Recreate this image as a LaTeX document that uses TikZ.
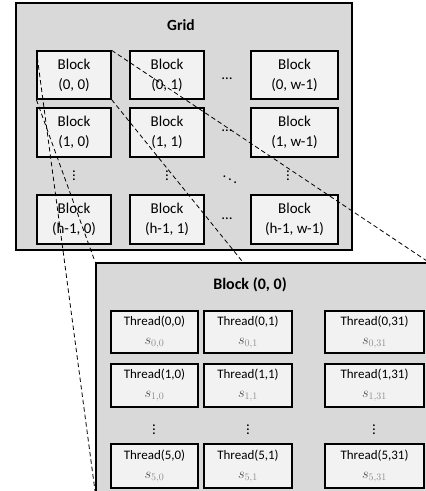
\documentclass[tikz,border=0pt]{standalone}
\usepackage{fontspec}
\setmainfont{Carlito}
\definecolor{gridgray}{HTML}{D9D9D9}
\definecolor{blkfill}{HTML}{F2F2F2}
\definecolor{sdark}{HTML}{505050}
\definecolor{slight}{HTML}{8C8C8C}
\newcommand{\svar}[1]{{\fontsize{14.5}{19}\selectfont\color{sdark}$s_{\color{slight}#1}$}}
\begin{document}
\begin{tikzpicture}[x=1pt,y=-1pt,
  outerbox/.style={draw, line width=1.6pt, fill=gridgray, inner sep=0pt},
  blk/.style={draw, line width=1.3pt, fill=blkfill, minimum height=48pt, inner sep=0pt,
    align=center, font=\fontsize{15}{20}\selectfont},
  thr/.style={draw, line width=1.3pt, fill=blkfill, inner sep=0pt,
    align=center, font=\fontsize{13}{19}\selectfont},
  ttl/.style={font=\fontsize{15.5}{18}\selectfont\bfseries},
  dotlbl/.style={font=\fontsize{15}{16}\selectfont, inner sep=0pt},
  link/.style={line width=0.8pt, dash pattern=on 4.5pt off 3pt}]
\useasboundingbox (0,0) rectangle (426,491);
\clip (0,0) rectangle (426,491);
% grid
\node[outerbox, minimum width=336pt, minimum height=247pt] (grid) at (184,126.5) {};
\node[ttl] (gridlbl) at (181,25) {Grid};
\node[blk, minimum width=74pt] (b00) at (74,75) {Block\\(0, 0)};
\node[blk, minimum width=74pt] (b01) at (167,75) {Block\\(0, 1)};
\node[blk, minimum width=87pt] (b0w) at (294.5,75) {Block\\(0, w-1)};
\node[blk, minimum width=74pt, minimum height=49pt] (b10) at (74,132.5) {Block\\(1, 0)};
\node[blk, minimum width=74pt, minimum height=49pt] (b11) at (167,132.5) {Block\\(1, 1)};
\node[blk, minimum width=87pt, minimum height=49pt] (b1w) at (294.5,132.5) {Block\\(1, w-1)};
\node[blk, minimum width=74pt, minimum height=49pt] (bh0) at (74,219.5) {Block\\(h-1, 0)};
\node[blk, minimum width=74pt, minimum height=49pt] (bh1) at (167,219.5) {Block\\(h-1, 1)};
\node[blk, minimum width=87pt, minimum height=49pt] (bhw) at (294.5,219.5) {Block\\(h-1, w-1)};
\node[dotlbl] (hd1) at (227,79) {…};
\node[dotlbl] (hd2) at (227,131) {…};
\node[dotlbl] (hd3) at (227,219) {…};
\node[dotlbl] (vd1) at (74,173) {$\vdots$};
\node[dotlbl] (vd2) at (167,173) {$\vdots$};
\node[dotlbl] (vd3) at (288,173) {$\vdots$};
\node[dotlbl] (dd) at (230,177) {$\ddots$};
% connectors to the enlarged block
\node[outerbox, minimum width=332pt, minimum height=228.5pt] (det) at (262,377.25) {};
\draw[link] (b00.south west) -- (det.north west);
\draw[link] (b00.north west) -- (det.south west);
\draw[link] (b00.north east) -- (det.north east);
\draw[link] (b00.south east) -- (det.south east);
% enlarged block drawn on top
\node[outerbox, minimum width=332pt, minimum height=228.5pt] (det2) at (262,377.25) {};
\node[ttl, font=\fontsize{16}{18}\selectfont\bfseries] (detlbl) at (250,285) {Block (0, 0)};
\node[thr, minimum width=87pt, minimum height=42pt] (t00) at (154.5,332) {Thread(0,0)\\\svar{0,0}};
\node[thr, minimum width=88pt, minimum height=42pt] (t01) at (248,332) {Thread(0,1)\\\svar{0,1}};
\node[thr, minimum width=99pt, minimum height=42pt] (t0n) at (374.5,332) {Thread(0,31)\\\svar{0,31}};
\node[thr, minimum width=87pt, minimum height=43pt] (t10) at (154.5,385.5) {Thread(1,0)\\\svar{1,0}};
\node[thr, minimum width=88pt, minimum height=43pt] (t11) at (248,385.5) {Thread(1,1)\\\svar{1,1}};
\node[thr, minimum width=99pt, minimum height=43pt] (t1n) at (374.5,385.5) {Thread(1,31)\\\svar{1,31}};
\node[thr, minimum width=87pt, minimum height=44pt] (t50) at (154.5,466) {Thread(5,0)\\\svar{5,0}};
\node[thr, minimum width=88pt, minimum height=44pt] (t51) at (248,466) {Thread(5,1)\\\svar{5,1}};
\node[thr, minimum width=99pt, minimum height=44pt] (t5n) at (374.5,466) {Thread(5,31)\\\svar{5,31}};
\node[dotlbl] (tv1) at (154,427) {$\vdots$};
\node[dotlbl] (tv2) at (248,427) {$\vdots$};
\node[dotlbl] (tv3) at (374,427) {$\vdots$};
\end{tikzpicture}
\end{document}
